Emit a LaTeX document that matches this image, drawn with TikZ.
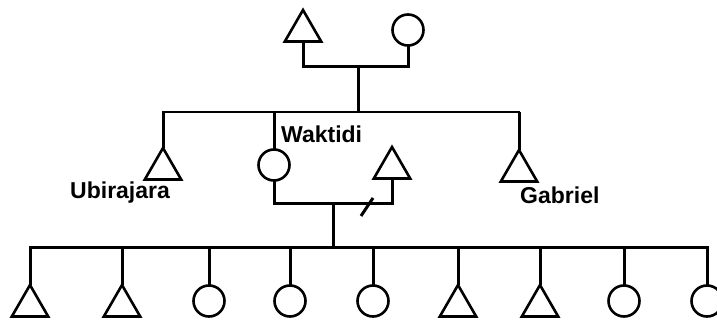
\documentclass[tikz,border=0pt]{standalone}
\usepackage{fontspec}
\setmainfont{Liberation Sans}
\usetikzlibrary{shapes.geometric}
\begin{document}
\begin{tikzpicture}[x=1pt,y=-1pt,
  male/.style={regular polygon, regular polygon sides=3, draw, line width=2.6pt,
               minimum size=42pt, inner sep=0pt, outer sep=0pt},
  female/.style={circle, draw, line width=2.6pt, minimum size=31pt,
               inner sep=0pt, outer sep=0pt},
  link/.style={line width=3pt},
  sibline/.style={line width=2pt},
  pname/.style={font=\bfseries\fontsize{23}{23}\selectfont, anchor=base west,
               inner sep=0pt}]
\useasboundingbox (0,0) rectangle (717,320);

% parents
\node[male]   (F) at (303,31) {};
\node[female] (M) at (408,30) {};
\coordinate (c0) at (358,67);
\coordinate (sib) at (358,112);
\draw[link] (F.side 2) |- (c0) -| (M.south);
\draw[link] (c0) -- (sib);

% siblings
\node[male]   (U) at (163,169) {};
\node[female] (W) at (274,165) {};
\node[male]   (G) at (519,171) {};
\draw[sibline] (U.corner 1) |- (sib) -| (G.corner 1);
\draw[link] (W.north) -- (W.north |- sib);
\draw[link] (U.corner 1) -- (U.corner 1 |- sib);
\draw[link] (G.corner 1) -- (G.corner 1 |- sib);

\node[pname] (lu) at (70,199) {Ubirajara};
\node[pname] (lw) at (281,143) {Waktidi};
\node[pname] (lg) at (520,204) {Gabriel};

% Waktidi's marriage
\node[male] (S) at (392,168) {};
\coordinate (c1) at (333,204);
\draw[link] (W.south) |- (c1) -| (S.side 2);
\coordinate (d1) at (361,216);
\coordinate (d2) at (373,198);
\draw[link] (d1) -- (d2);

% children
\coordinate (kids) at (333,248);
\draw[link] (c1) -- (kids);
\node[male]   (K1) at (30,306) {};
\node[male]   (K2) at (122,306) {};
\node[female] (K3) at (209,301) {};
\node[female] (K4) at (290,301) {};
\node[female] (K5) at (373,301) {};
\node[male]   (K6) at (458,306) {};
\node[male]   (K7) at (540,306) {};
\node[female] (K8) at (624,301) {};
\node[female] (K9) at (707,301) {};
\draw[link] (K1.corner 1) |- (kids) -| (K9.north);
\foreach \k in {K2,K6,K7} \draw[link] (\k.corner 1) -- (\k.corner 1 |- kids);
\foreach \k in {K3,K4,K5,K8} \draw[link] (\k.north) -- (\k.north |- kids);
\end{tikzpicture}
\end{document}
